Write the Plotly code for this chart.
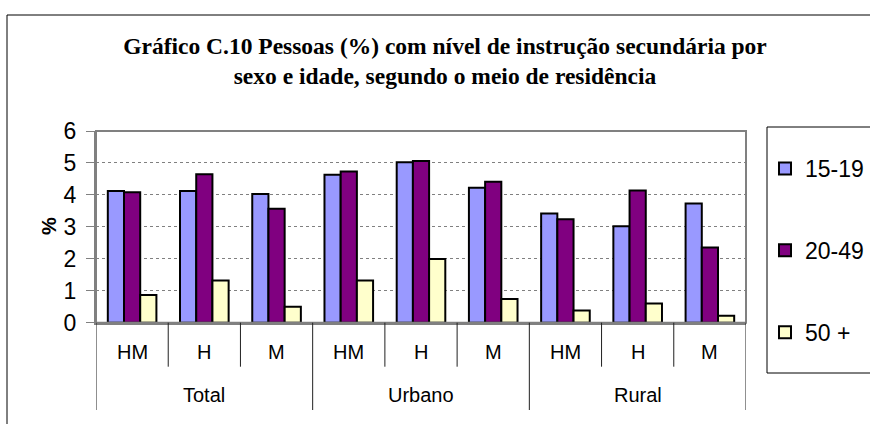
import plotly.graph_objects as go

# ---- data ----
groups = ["Total", "Urbano", "Rural"]
subcats = ["HM", "H", "M"]
series_names = ["15-19", "20-49", "50 +"]
s_15_19 = [4.12, 4.12, 4.03, 4.63, 5.02, 4.22, 3.42, 3.02, 3.73]
s_20_49 = [4.08, 4.65, 3.57, 4.73, 5.06, 4.41, 3.24, 4.14, 2.35]
s_50 = [0.87, 1.32, 0.50, 1.32, 1.99, 0.74, 0.38, 0.60, 0.22]
y_ticks = [0, 1, 2, 3, 4, 5, 6]
title_text = ("Gráfico C.10 Pessoas (%) com nível de instrução secundária por<br>"
              "sexo e idade, segundo o meio de residência")

colors = ["#9999FF", "#800080", "#FFFFCC"]

W, H = 870, 424
def px(x): return x / W
def py(y): return 1 - y / H

n = len(groups) * len(subcats)
xpos = list(range(n))
sub_labels = [s for g in groups for s in subcats]

SANS = "Arial, Liberation Sans, sans-serif"
SERIF = "Times New Roman, Liberation Serif, serif"

fig = go.Figure()
for name, vals, col in zip(series_names, [s_15_19, s_20_49, s_50], colors):
    fig.add_trace(go.Bar(
        x=xpos, y=vals, name=name, legendgroup=name,
        marker=dict(color=col, line=dict(color="black", width=2)),
    ))

shapes = []
# outer chart frame
shapes.append(dict(type="rect", xref="paper", yref="paper",
                   x0=px(7), x1=px(900), y0=py(15), y1=py(440),
                   line=dict(color="black", width=1)))
# legend frame
shapes.append(dict(type="rect", xref="paper", yref="paper",
                   x0=px(767), x1=px(900), y0=py(127), y1=py(373),
                   line=dict(color="black", width=1)))
# plot area frame
shapes.append(dict(type="rect", xref="x domain", yref="y domain",
                   x0=0, x1=1, y0=0, y1=1,
                   line=dict(color="#808080", width=2)))
# category dividers
for i in range(n + 1):
    xv = i - 0.5
    is_group = (i % len(subcats) == 0)
    y_end = 410 if is_group else 366.7
    shapes.append(dict(type="line", xref="x", yref="paper",
                       x0=xv, x1=xv, y0=py(322.7), y1=py(y_end),
                       line=dict(color="#202020", width=1)))

annotations = []
for i, lab in enumerate(sub_labels):
    annotations.append(dict(x=i, y=py(352), xref="x", yref="paper",
                            text=lab, showarrow=False, yanchor="middle",
                            font=dict(family=SANS, size=20, color="black")))
for gi, g in enumerate(groups):
    annotations.append(dict(x=gi * len(subcats) + 1, y=py(395), xref="x", yref="paper",
                            text=g, showarrow=False, yanchor="middle",
                            font=dict(family=SANS, size=20, color="black")))
annotations.append(dict(x=px(36), y=py(226), xref="paper", yref="paper",
                        text="<b>%</b>", textangle=-90, showarrow=False,
                        font=dict(family=SANS, size=20, color="black")))

fig.update_layout(
    width=W, height=H, autosize=False,
    margin=dict(l=0, r=0, t=0, b=0, pad=0, autoexpand=False),
    paper_bgcolor="white", plot_bgcolor="white",
    barmode="group", bargap=0.327, bargroupgap=0,
    title=dict(text="<b>" + title_text + "</b>", x=px(445), xanchor="center",
               y=py(53.5), yanchor="middle", automargin=False,
               font=dict(family=SERIF, size=23.5, color="black")),
    xaxis=dict(domain=[px(96), px(746)], range=[-0.5, n - 0.5], automargin=False,
               showticklabels=False, ticks="", showgrid=False, zeroline=False,
               showline=True, linecolor="#808080", linewidth=2),
    yaxis=dict(domain=[py(322.7), py(131)], range=[0, 6], tickvals=y_ticks,
               automargin=False,
               ticks="outside", ticklen=8, tickcolor="#808080", tickwidth=1,
               ticklabelstandoff=5,
               showline=True, linecolor="#808080", linewidth=2,
               showgrid=True, gridcolor="#808080", griddash="dot", gridwidth=1,
               zeroline=False,
               tickfont=dict(family=SANS, size=23, color="black")),
    legend=dict(x=px(765), xanchor="left", y=py(147), yanchor="top",
                font=dict(family=SANS, size=23, color="black"),
                tracegroupgap=49, bgcolor="rgba(0,0,0,0)", borderwidth=0,
                traceorder="grouped"),
    shapes=shapes, annotations=annotations,
)

fig.write_html("out.html",
               config={"displayModeBar": False},
               post_script="document.body.style.margin='0';document.body.style.overflow='hidden';")
